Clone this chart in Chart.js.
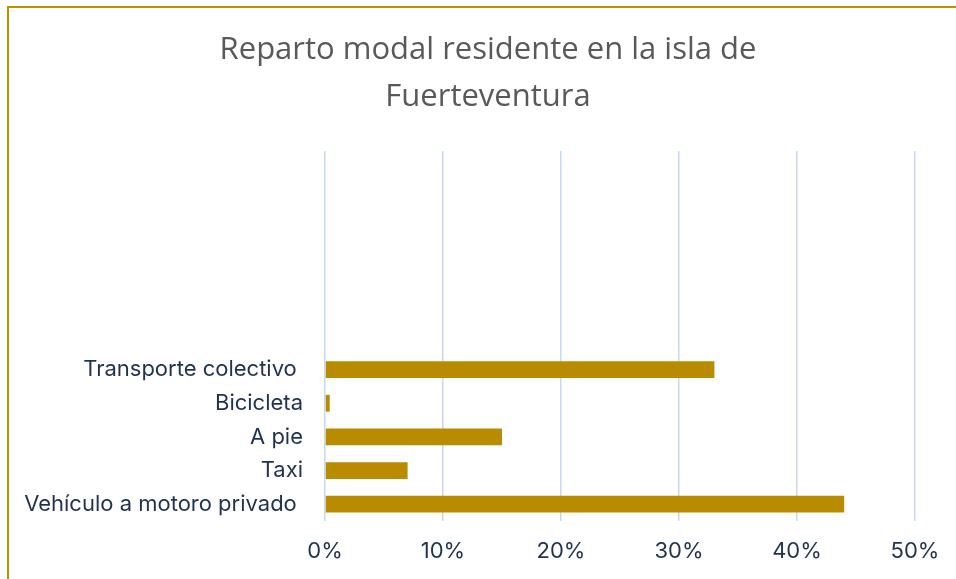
<!DOCTYPE html>
<html lang="es">
<head>
    <meta charset="UTF-8">
    <title>Reparto modal residente en la isla de Fuerteventura</title>
    <script src="https://cdn.jsdelivr.net/npm/chart.js"></script>
    <style>
        html, body {
            margin: 0;
            padding: 0;
            background: #ffffff;
            overflow: hidden;
        }

        .frame {
            position: absolute;
            left: 7px;
            top: 6px;
            width: 958px;
            height: 600px;
            border: 2px solid #bf9000;
            background: #ffffff;
        }

        canvas {
            display: block;
        }
    </style>
</head>
<body>
    <div class="frame">
        <canvas id="modalChart" width="958" height="571"></canvas>
    </div>

    <script>
        // datos (las primeras categorias van vacias como en el original)
        const categorias = ['', '', '', '', '', '',
            'Transporte colectivo ', 'Bicicleta', 'A pie', 'Taxi', 'Vehículo a motoro privado '];
        const porcentajes = [null, null, null, null, null, null, 33, 0.4, 15, 7, 44];
        const titulo = ['Reparto modal residente en la isla de', 'Fuerteventura'];

        // el titulo va centrado en todo el grafico, no solo en la zona con padding
        const tituloCentrado = {
            id: 'tituloCentrado',
            afterLayout(chart) {
                if (chart.titleBlock) {
                    chart.titleBlock.left = 0;
                    chart.titleBlock.right = chart.width;
                    chart.titleBlock.width = chart.width;
                }
            }
        };

        const ctx = document.getElementById('modalChart').getContext('2d');
        const modalChart = new Chart(ctx, {
            type: 'bar',
            data: {
                labels: categorias,
                datasets: [{
                    label: 'Reparto modal',
                    data: porcentajes,
                    backgroundColor: '#b88b00',
                    borderWidth: 0,
                    barPercentage: 0.5,
                    categoryPercentage: 1
                }]
            },
            plugins: [tituloCentrado],
            options: {
                indexAxis: 'y',
                responsive: false,
                animation: false,
                layout: {
                    padding: { top: 0, right: 52, bottom: 0, left: 0 }
                },
                plugins: {
                    legend: { display: false },
                    tooltip: { enabled: false },
                    title: {
                        display: true,
                        text: titulo,
                        color: '#595959',
                        font: { family: 'Open Sans', size: 31, weight: 'normal', lineHeight: 1.5 },
                        padding: { top: 19, bottom: 31 }
                    }
                },
                scales: {
                    x: {
                        min: 0,
                        max: 50,
                        ticks: {
                            stepSize: 10,
                            color: '#1f3350',
                            font: { family: 'Inter', size: 22 },
                            padding: 17,
                            callback: function (v) { return v + '%'; }
                        },
                        grid: {
                            color: '#c6d9f0',
                            lineWidth: 1.5,
                            drawTicks: false
                        },
                        border: { display: false },
                        afterFit: function (scale) { scale.height = 58; }
                    },
                    y: {
                        ticks: {
                            color: '#1f3350',
                            font: { family: 'Inter', size: 22 },
                            padding: 22,
                            autoSkip: false
                        },
                        grid: { display: false, drawTicks: false },
                        border: { display: false },
                        afterFit: function (scale) { scale.width = 316; }
                    }
                }
            }
        });
    </script>
</body>
</html>
